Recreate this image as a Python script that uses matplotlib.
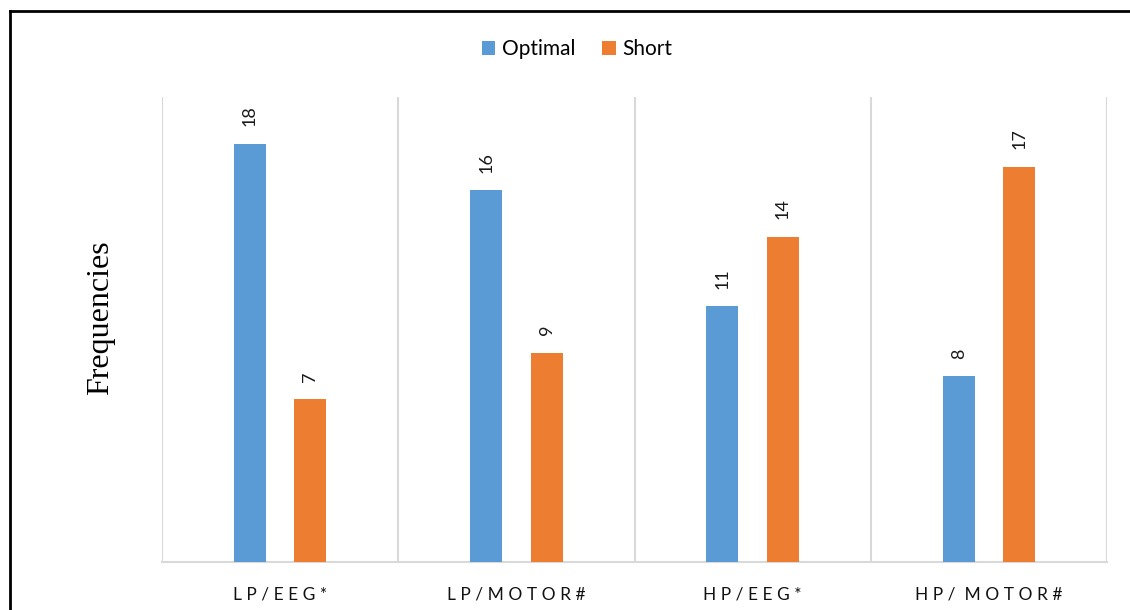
import matplotlib
matplotlib.use("Agg")
import matplotlib.pyplot as plt
from matplotlib.lines import Line2D
import numpy as np

categories = ["LP/EEG*", "LP/MOTOR#", "HP/EEG*", "HP/ MOTOR#"]
optimal = [18, 16, 11, 8]
short = [7, 9, 14, 17]
series_names = ["Optimal", "Short"]
colors = ["#5B9BD5", "#ED7D31"]

W, H = 1130, 610
fig = plt.figure(figsize=(W / 100, H / 100), dpi=100)
ax = fig.add_axes([162 / W, 1 - 562 / H, (1107 - 162) / W, (562 - 97) / H])

x = np.arange(len(categories))
bw = 0.136
off = 0.128
b1 = ax.bar(x - off, optimal, bw, color=colors[0], label=series_names[0], zorder=3)
b2 = ax.bar(x + off, short, bw, color=colors[1], label=series_names[1], zorder=3)

label_font = dict(family=["Lato", "DejaVu Sans"], fontsize=13, color="#1a1a1a")
for bars in (b1, b2):
    for rect in bars:
        h = rect.get_height()
        ax.annotate(f"{h:g}", (rect.get_x() + rect.get_width() / 2, h),
                    xytext=(0, 12.5), textcoords="offset points",
                    rotation=90, ha="center", va="bottom", **label_font)

ax.set_xlim(-0.5, len(categories) - 0.5)
ax.set_ylim(0, 20)
ax.set_yticks([])
ax.set_xticks(x)
spaced = [" ".join(c.replace(" ", "")) if " " not in c else
          " ".join(c.split(" ")[0]) + "  " + " ".join(c.split(" ")[1]) for c in categories]
ax.set_xticklabels(spaced, family=["Lato", "DejaVu Sans"], fontsize=12.5, color="#111111")
ax.tick_params(axis="x", length=0, pad=18)

for s in ["top", "right", "left"]:
    ax.spines[s].set_visible(False)
ax.spines["bottom"].set_color("#d9d9d9")
ax.spines["bottom"].set_linewidth(1.5)

# category separators
for b in np.arange(-0.5, len(categories) + 0.5, 1.0):
    ax.axvline(b, color="#d9d9d9", lw=1.5, zorder=1)

fig.text(101 / W, 1 - 318 / H, "Frequencies", rotation=90, ha="center", va="center",
         family=["Liberation Serif", "DejaVu Serif"], fontsize=23)

leg = fig.legend(handles=[b1, b2], labels=series_names, loc="center",
                 bbox_to_anchor=(577 / W, 1 - 49 / H), ncol=2, frameon=False,
                 prop=dict(family=["Lato", "DejaVu Sans"], size=15),
                 handlelength=0.65, handleheight=0.65, handletextpad=0.3,
                 columnspacing=1.3)

# outer frame (top and left edges)
fig.add_artist(Line2D([10 / W, 1.0], [1 - 11 / H, 1 - 11 / H], color="black", lw=2,
                      transform=fig.transFigure))
fig.add_artist(Line2D([10 / W, 10 / W], [0, 1 - 11 / H], color="black", lw=2,
                      transform=fig.transFigure))

fig.savefig("out.png", dpi=100)
